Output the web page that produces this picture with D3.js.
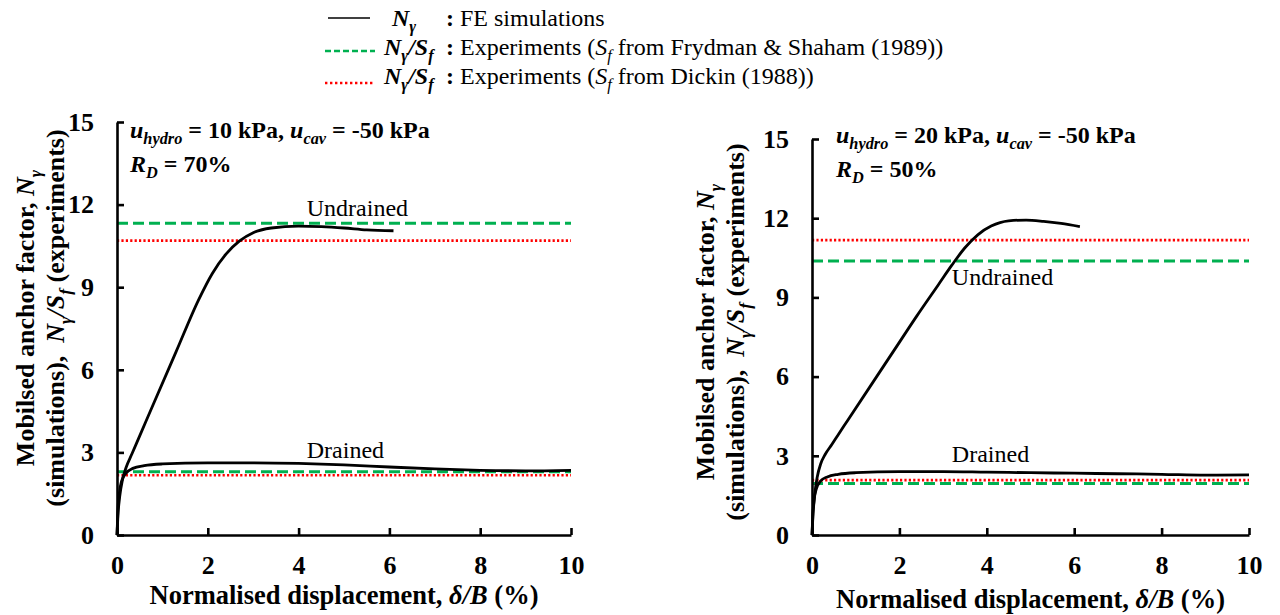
<!DOCTYPE html>
<html>
<head>
<meta charset="utf-8">
<script src="https://cdn.jsdelivr.net/npm/d3@7"></script>
</head>
<body style="margin:0; background:#fff">
<div id="chart"></div>
<script>

// FE curves, left panel (uhydro = 10 kPa, RD = 70%)
var leftUndrainedX = [0, 0.02, 0.06, 0.12, 0.2, 0.33, 0.5, 0.8, 1.3, 1.8, 2.1, 2.4, 2.7, 3.0, 3.4, 4.0, 4.5, 5.0, 5.5, 6.09];
var leftUndrainedY = [0, 0.7, 1.4, 2.0, 2.45, 2.95, 3.6, 4.75, 6.65, 8.55, 9.5, 10.2, 10.68, 10.98, 11.15, 11.22, 11.2, 11.15, 11.08, 11.05];
var leftDrainedX = [0, 0.02, 0.05, 0.1, 0.2, 0.35, 0.6, 1, 2, 3, 4, 5, 6, 7, 8, 9, 10];
var leftDrainedY = [0, 0.9, 1.5, 1.95, 2.25, 2.42, 2.52, 2.58, 2.62, 2.62, 2.6, 2.55, 2.47, 2.4, 2.35, 2.33, 2.35];

// FE curves, right panel (uhydro = 20 kPa, RD = 50%)
var rightUndrainedX = [0, 0.02, 0.06, 0.12, 0.2, 0.3, 0.45, 0.6, 0.8, 1.4, 1.9, 2.4, 2.9, 3.2, 3.5, 3.8, 4.1, 4.5, 4.9, 5.3, 5.7, 6.13];
var rightUndrainedY = [0, 0.7, 1.5, 2.2, 2.7, 3.05, 3.42, 3.8, 4.3, 5.8, 7.05, 8.3, 9.5, 10.22, 10.88, 11.38, 11.7, 11.9, 11.93, 11.88, 11.8, 11.68];
var rightDrainedX = [0, 0.02, 0.05, 0.1, 0.2, 0.35, 0.6, 1, 2, 3, 4, 5, 6, 7, 8, 9, 10];
var rightDrainedY = [0, 0.8, 1.35, 1.75, 2.05, 2.2, 2.3, 2.36, 2.4, 2.4, 2.38, 2.36, 2.34, 2.32, 2.3, 2.27, 2.28];

// experiments Ngamma/Sf : [undrained, drained]
var leftFrydman = [11.32, 2.3];
var leftDickin = [10.69, 2.17];
var rightFrydman = [10.38, 1.95];
var rightDickin = [11.17, 2.08];

var xTicks = [0, 2, 4, 6, 8, 10];
var yTicks = [0, 3, 6, 9, 12, 15];
var green = "#00b050";
var red = "#ff0000";
var serif = "'Liberation Serif'";

var svg = d3.select("#chart").append("svg")
  .attr("width", 1280)
  .attr("height", 615);

// writes a line of mixed bold / italic / subscript text
function rich(parent, segs, size, x, y, anchor) {
  var t = parent.append("text")
    .attr("x", x).attr("y", y)
    .style("font-family", serif)
    .style("font-size", size + "px")
    .attr("text-anchor", anchor || "start");
  var down = false;
  segs.forEach(function(s) {
    var ts = t.append("tspan").text(s.t)
      .style("font-family", serif)
      .style("font-weight", s.n ? "normal" : "bold")
      .style("font-style", s.i ? "italic" : "normal");
    if (s.sub) {
      ts.style("font-size", (size * 0.68) + "px");
      if (!down) { ts.attr("dy", size * 0.25); down = true; }
    } else if (down) {
      ts.attr("dy", -size * 0.25); down = false;
    }
  });
  return t;
}

function panel(opt) {
  var xScale = d3.scaleLinear().domain([0, 10]).range([opt.x0, opt.x1]);
  var yScale = d3.scaleLinear().domain([0, 15]).range([opt.y0, opt.y1]);
  var g = svg.append("g");

  // horizontal experiment lines
  [[opt.frydman, green, "11,5", 3], [opt.dickin, red, "2.2,2.2", 2.6]].forEach(function(s) {
    g.selectAll(null).data(s[0]).enter().append("line")
      .attr("x1", xScale(0)).attr("x2", xScale(10))
      .attr("y1", function(d) { return yScale(d); })
      .attr("y2", function(d) { return yScale(d); })
      .attr("stroke", s[1])
      .attr("stroke-width", s[3])
      .attr("stroke-dasharray", s[2]);
  });

  var line = d3.line()
    .x(function(d) { return xScale(d[0]); })
    .y(function(d) { return yScale(d[1]); })
    .curve(d3.curveMonotoneX);

  [[opt.ux, opt.uy], [opt.dx, opt.dy]].forEach(function(c) {
    g.append("path")
      .datum(d3.zip(c[0], c[1]))
      .attr("d", line)
      .attr("fill", "none")
      .attr("stroke", "#000")
      .attr("stroke-width", 2.8);
  });

  var xAxis = d3.axisBottom(xScale).tickValues(xTicks).tickSizeInner(-7).tickSizeOuter(0).tickPadding(21);
  var yAxis = d3.axisLeft(yScale).tickValues(yTicks).tickSizeInner(-7).tickSizeOuter(0).tickPadding(23);

  var gx = g.append("g").attr("transform", "translate(0," + opt.y0 + ")").call(xAxis);
  var gy = g.append("g").attr("transform", "translate(" + opt.x0 + ",0)").call(yAxis);
  [gx, gy].forEach(function(a) {
    a.attr("font-family", null).attr("font-size", null);
    a.selectAll("path, line").attr("stroke", "#000").attr("stroke-width", 2.6);
    a.selectAll("text")
      .attr("fill", "#000")
      .style("font-family", serif)
      .style("font-size", "26px")
      .style("font-weight", "bold");
  });

  // curve labels
  g.append("text").attr("x", xScale(opt.uLab[0])).attr("y", yScale(opt.uLab[1]))
    .style("font-family", serif).style("font-size", "24px").text("Undrained");
  g.append("text").attr("x", xScale(opt.dLab[0])).attr("y", yScale(opt.dLab[1]))
    .style("font-family", serif).style("font-size", "24px").text("Drained");

  // condition notes
  rich(g, [{t: "u", i: 1}, {t: "hydro", i: 1, sub: 1}, {t: " = " + opt.hydro + " kPa, "},
           {t: "u", i: 1}, {t: "cav", i: 1, sub: 1}, {t: " = -50 kPa"}], 24, opt.noteX, opt.noteY);
  rich(g, [{t: "R", i: 1}, {t: "D", i: 1, sub: 1}, {t: " = " + opt.rd + "%"}], 24, opt.noteX, opt.noteY + 34);

  // axis titles
  rich(g, [{t: "Normalised displacement, "}, {t: "δ/B", i: 1}, {t: " (%)"}], 26.5,
       (opt.x0 + opt.x1) / 2, opt.titleY, "middle");

  var t1 = rich(g, [{t: "Mobilsed anchor factor, "}, {t: "N", i: 1}, {t: "γ", i: 1, sub: 1}], 26, 0, 0, "middle");
  t1.attr("transform", "translate(" + opt.yt1 + "," + opt.ytc + ")rotate(-90)");
  var t2 = rich(g, [{t: "(simulations),\u00a0 "}, {t: "N", i: 1}, {t: "γ", i: 1, sub: 1}, {t: "/", i: 1},
                    {t: "S", i: 1}, {t: "f", i: 1, sub: 1}, {t: " (experiments)"}], 26, 0, 0, "middle");
  t2.attr("transform", "translate(" + opt.yt2 + "," + opt.ytc + ")rotate(-90)");
}

panel({
  x0: 117, x1: 571, y0: 535, y1: 122,
  ux: leftUndrainedX, uy: leftUndrainedY, dx: leftDrainedX, dy: leftDrainedY,
  frydman: leftFrydman, dickin: leftDickin,
  uLab: [4.18, 11.59], dLab: [4.18, 2.8],
  hydro: 10, rd: 70, noteX: 130, noteY: 138,
  titleY: 604, yt1: 34, yt2: 64, ytc: 318
});

panel({
  x0: 812, x1: 1249, y0: 535, y1: 139,
  ux: rightUndrainedX, uy: rightUndrainedY, dx: rightDrainedX, dy: rightDrainedY,
  frydman: rightFrydman, dickin: rightDickin,
  uLab: [3.2, 9.47], dLab: [3.2, 2.77],
  hydro: 20, rd: 50, noteX: 836, noteY: 143,
  titleY: 608, yt1: 714, yt2: 744, ytc: 332
});

// legend
var leg = svg.append("g");
leg.append("line").attr("x1", 328).attr("x2", 370).attr("y1", 18).attr("y2", 18)
  .attr("stroke", "#000").attr("stroke-width", 1.3);
leg.append("line").attr("x1", 325).attr("x2", 375).attr("y1", 51).attr("y2", 51)
  .attr("stroke", green).attr("stroke-width", 2.6).attr("stroke-dasharray", "6,3");
leg.append("line").attr("x1", 325).attr("x2", 375).attr("y1", 83).attr("y2", 83)
  .attr("stroke", red).attr("stroke-width", 2.6).attr("stroke-dasharray", "2.4,2.6");

var ratio = [{t: "N", i: 1}, {t: "γ", i: 1, sub: 1}, {t: "/", i: 1}, {t: "S", i: 1}, {t: "f", i: 1, sub: 1}];
rich(leg, [{t: "N", i: 1}, {t: "γ", i: 1, sub: 1}], 24, 392, 26);
rich(leg, ratio, 24, 384, 55);
rich(leg, ratio, 24, 384, 84);
[26, 55, 84].forEach(function(y) {
  leg.append("text").attr("x", 446).attr("y", y).style("font-family", serif)
    .style("font-size", "24px").style("font-weight", "bold").text(":");
});
rich(leg, [{t: "FE simulations", n: 1}], 24, 460, 26);
rich(leg, [{t: "Experiments (", n: 1}, {t: "S", n: 1, i: 1}, {t: "f", n: 1, i: 1, sub: 1},
           {t: " from Frydman & Shaham (1989))", n: 1}], 24, 460, 55);
rich(leg, [{t: "Experiments (", n: 1}, {t: "S", n: 1, i: 1}, {t: "f", n: 1, i: 1, sub: 1},
           {t: " from Dickin (1988))", n: 1}], 24, 460, 84);

</script>
</body>
</html>
